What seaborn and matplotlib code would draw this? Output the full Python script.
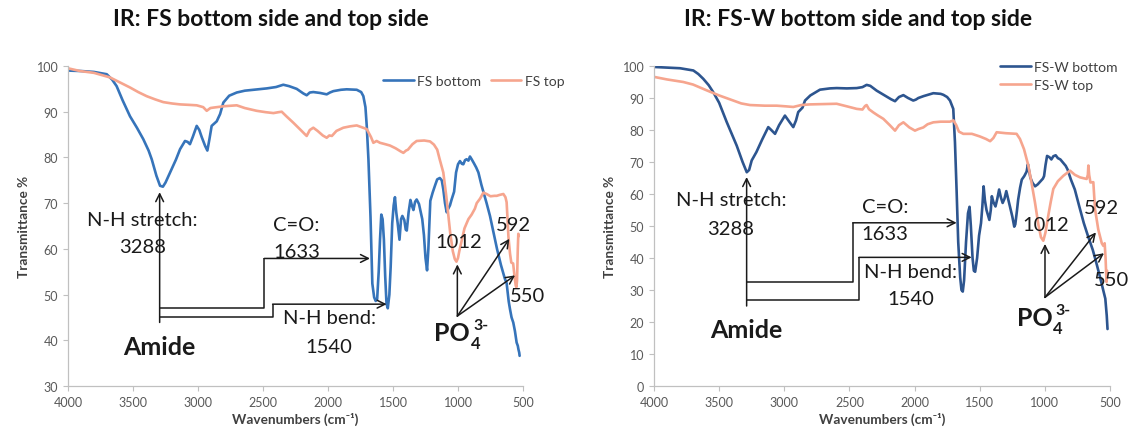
import matplotlib
matplotlib.use("Agg")
import matplotlib.pyplot as plt
import seaborn as sns
import pandas as pd

# ---- FS spectra (wavenumber in cm-1, transmittance in %) ----
fs_bottom_wn = [4000, 3900, 3800, 3702, 3660, 3626, 3580, 3523, 3470, 3421, 3380, 3356, 3320, 3292,
                3270, 3250, 3215, 3170, 3138, 3100, 3080, 3062, 3040, 3010, 2990, 2972, 2945, 2928,
                2912, 2895, 2856, 2830, 2805, 2760, 2702, 2640, 2574, 2471, 2400, 2344, 2300, 2241,
                2190, 2164, 2140, 2113, 2060, 2010, 1985, 1959, 1900, 1856, 1779, 1745, 1728, 1712,
                1702, 1689, 1673, 1659, 1645, 1633, 1622, 1610, 1600, 1590, 1580, 1570, 1560, 1550,
                1540, 1528, 1518, 1506, 1495, 1485, 1475, 1464, 1450, 1438, 1428, 1413, 1402, 1394,
                1380, 1366, 1355, 1343, 1330, 1318, 1300, 1292, 1275, 1262, 1250, 1238, 1228, 1213,
                1195, 1175, 1160, 1140, 1125, 1113, 1100, 1087, 1075, 1062, 1049, 1030, 1015, 1000,
                985, 970, 959, 946, 934, 920, 908, 895, 877, 860, 843, 820, 800, 780, 754, 730, 700,
                670, 640, 626, 610, 600, 588, 575, 562, 549, 540, 535, 529, 526]
fs_bottom_t = [99.0, 98.9, 98.7, 98.2, 97.0, 95.6, 92.5, 89.0, 86.5, 84.0, 81.5, 79.6, 76.0, 73.8,
               73.6, 74.5, 76.7, 79.5, 81.8, 83.6, 83.4, 82.9, 84.5, 86.9, 86.0, 84.5, 82.5, 81.5,
               84.0, 86.9, 87.9, 89.5, 92.0, 93.5, 94.2, 94.6, 94.8, 95.1, 95.4, 95.9, 95.6, 95.0,
               94.0, 93.6, 94.2, 94.3, 94.1, 93.8, 94.2, 94.5, 94.8, 94.9, 94.8, 94.3, 93.4, 91.0,
               86.9, 79.6, 67.0, 52.4, 49.4, 48.6, 49.0, 55.0, 62.0, 67.5, 66.5, 62.0, 54.0, 48.0,
               47.0, 50.0, 56.0, 65.6, 69.5, 71.3, 68.0, 65.6, 62.0, 66.5, 67.2, 66.3, 64.2, 64.0,
               68.0, 70.7, 69.5, 68.5, 70.3, 70.8, 69.8, 68.8, 66.5, 63.0, 58.0, 55.3, 60.0, 70.5,
               72.3, 74.0, 75.2, 75.5, 75.0, 73.0, 70.0, 68.0, 68.8, 69.5, 70.8, 72.5, 76.7, 78.5,
               79.2, 78.6, 78.5, 79.4, 79.6, 79.3, 80.2, 79.6, 78.7, 77.8, 76.7, 74.0, 72.0, 70.0,
               67.2, 64.0, 60.0, 56.5, 53.5, 52.5, 48.5, 46.8, 45.0, 43.9, 42.0, 39.5, 38.8, 38.0,
               37.3, 36.6]

fs_top_wn = [4000, 3908, 3800, 3677, 3600, 3523, 3460, 3395, 3330, 3267, 3200, 3138, 3070, 3010,
             2960, 2933, 2905, 2882, 2800, 2702, 2640, 2549, 2480, 2420, 2380, 2356, 2320, 2267,
             2210, 2175, 2164, 2140, 2113, 2080, 2040, 2010, 1990, 1970, 1935, 1882, 1830, 1779,
             1740, 1702, 1670, 1651, 1626, 1600, 1560, 1523, 1480, 1440, 1420, 1400, 1385, 1350,
             1318, 1260, 1215, 1185, 1160, 1140, 1113, 1090, 1075, 1060, 1040, 1025, 1012, 1000,
             990, 970, 950, 920, 895, 870, 856, 830, 805, 780, 750, 720, 702, 680, 651, 635, 626,
             618, 612, 600, 590, 576, 565, 556, 551, 546, 540, 536, 532]
fs_top_t = [99.5, 98.9, 98.5, 97.5, 96.4, 95.3, 94.3, 93.4, 92.7, 92.1, 91.8, 91.6, 91.5, 91.4,
            91.0, 90.2, 90.8, 90.9, 91.2, 91.4, 90.8, 90.2, 89.9, 89.7, 89.9, 90.0, 89.0, 87.6,
            86.0, 85.0, 84.7, 86.0, 86.5, 85.8, 84.8, 84.3, 84.8, 84.7, 85.8, 86.5, 86.8, 87.0,
            86.6, 86.2, 84.5, 83.2, 83.6, 83.2, 82.9, 82.6, 82.0, 81.3, 81.0, 81.5, 81.7, 82.9,
            83.6, 83.7, 83.5, 82.8, 81.7, 79.5, 76.7, 71.5, 67.5, 63.5, 59.5, 57.8, 57.2, 58.0,
            59.5, 62.0, 64.5, 66.5, 67.5, 68.8, 70.0, 71.0, 72.3, 72.0, 71.5, 71.6, 71.6, 71.8,
            72.0, 71.3, 70.2, 66.0, 62.6, 59.0, 57.0, 56.8, 54.0, 52.0, 51.6, 53.0, 60.0, 63.3, 62.8]

# ---- FS-W spectra ----
fsw_bottom_wn = [4000, 3900, 3800, 3698, 3660, 3622, 3580, 3545, 3500, 3442, 3400, 3365, 3320, 3288,
                 3270, 3250, 3214, 3170, 3123, 3100, 3071, 3040, 2995, 2960, 2931, 2910, 2893, 2860,
                 2841, 2800, 2726, 2650, 2598, 2520, 2444, 2400, 2368, 2340, 2291, 2230, 2180, 2150,
                 2120, 2086, 2050, 2010, 1990, 1971, 1930, 1856, 1800, 1779, 1750, 1728, 1703, 1690,
                 1677, 1665, 1650, 1640, 1630, 1620, 1605, 1590, 1578, 1568, 1555, 1545, 1535, 1520,
                 1505, 1490, 1480, 1470, 1460, 1448, 1426, 1415, 1407, 1395, 1379, 1365, 1351, 1338,
                 1324, 1310, 1296, 1282, 1268, 1250, 1235, 1227, 1215, 1205, 1190, 1177, 1158, 1140,
                 1130, 1120, 1111, 1095, 1075, 1055, 1033, 1015, 1006, 995, 983, 965, 950, 935, 917,
                 900, 881, 860, 840, 826, 800, 770, 735, 701, 670, 632, 605, 577, 555, 536, 525, 519]
fsw_bottom_t = [99.7, 99.5, 99.3, 98.6, 97.5, 96.0, 94.0, 91.8, 88.5, 82.5, 78.5, 75.1, 70.0, 66.8,
                67.5, 70.5, 73.1, 77.0, 80.9, 80.0, 78.8, 81.5, 84.5, 82.5, 80.9, 83.0, 85.6, 87.0,
                89.2, 90.8, 92.6, 93.0, 93.1, 93.0, 93.1, 93.4, 94.1, 93.8, 92.3, 90.8, 89.6, 89.0,
                90.3, 90.9, 90.0, 89.2, 89.5, 90.0, 90.6, 91.5, 91.3, 91.0, 90.3, 89.2, 86.6, 76.2,
                60.6, 45.0, 34.0, 30.0, 29.5, 33.0, 45.0, 54.0, 56.0, 50.0, 40.0, 36.0, 35.7, 40.0,
                47.0, 50.9, 56.0, 62.4, 58.0, 55.0, 51.9, 55.0, 59.3, 57.5, 56.1, 58.5, 61.4, 59.0,
                57.2, 58.5, 60.9, 58.5, 56.1, 53.0, 49.8, 50.5, 54.5, 58.2, 62.0, 64.5, 65.6, 67.0,
                69.3, 67.0, 65.1, 63.5, 62.4, 63.0, 64.0, 64.8, 65.6, 69.0, 71.9, 71.5, 70.8, 71.8,
                72.1, 71.2, 70.8, 69.8, 68.8, 67.7, 64.5, 61.4, 56.0, 50.9, 47.0, 42.5, 38.5, 34.1,
                30.5, 27.3, 22.0, 17.8]

fsw_top_wn = [4000, 3900, 3775, 3700, 3596, 3500, 3391, 3330, 3263, 3150, 3058, 2990, 2931, 2870,
              2803, 2700, 2598, 2520, 2444, 2400, 2380, 2368, 2350, 2317, 2280, 2240, 2190, 2150,
              2120, 2086, 2040, 1997, 1970, 1933, 1900, 1856, 1800, 1728, 1702, 1680, 1660, 1626,
              1560, 1500, 1452, 1420, 1395, 1370, 1300, 1217, 1191, 1160, 1127, 1100, 1076, 1050,
              1030, 1012, 995, 974, 955, 935, 900, 858, 807, 770, 730, 700, 679, 670, 666, 660,
              650, 628, 615, 602, 590, 575, 563, 551, 541, 534, 527, 522]
fsw_top_t = [96.6, 95.8, 95.0, 94.2, 92.4, 90.8, 89.2, 88.3, 87.8, 87.6, 87.6, 87.4, 87.2, 87.8,
             88.0, 88.1, 88.2, 87.4, 86.6, 86.4, 87.5, 87.8, 86.5, 85.5, 84.5, 83.5, 81.5, 79.8,
             81.5, 82.4, 80.8, 79.8, 80.3, 80.8, 81.8, 82.4, 82.6, 82.6, 83.0, 81.5, 79.5, 78.8,
             78.8, 78.0, 77.2, 76.5, 77.5, 79.3, 79.0, 78.8, 77.2, 74.0, 68.9, 63.0, 57.4, 50.5,
             46.5, 45.4, 48.0, 53.2, 57.5, 61.6, 64.0, 65.7, 67.3, 66.0, 65.2, 64.9, 64.7, 66.0,
             68.9, 66.0, 63.6, 63.7, 55.3, 52.0, 48.9, 46.5, 44.6, 43.8, 44.6, 40.0, 32.5, 36.0]

x_ticks = [4000, 3500, 3000, 2500, 2000, 1500, 1000, 500]
y_ticks_fs = [30, 40, 50, 60, 70, 80, 90, 100]
y_ticks_fsw = [0, 10, 20, 30, 40, 50, 60, 70, 80, 90, 100]

# ---- style ----
sns.set_theme(style="ticks")
plt.rcParams["font.family"] = ["Lato", "DejaVu Sans"]

W, H = 1132, 435
fig = plt.figure(figsize=(W / 100, H / 100), dpi=100)
fig.patch.set_facecolor("white")

ax1 = fig.add_axes([68 / W, 1 - 387 / H, 455 / W, 320 / H])
ax2 = fig.add_axes([654 / W, 1 - 387 / H, 456 / W, 320 / H])

SALMON = "#F6A58E"
BLUE_L = "#3674BA"
BLUE_R = "#2D558F"
INK = "#1a1a1a"


def long_frame(pairs):
    parts = []
    for name, wn, t in pairs:
        parts.append(pd.DataFrame({"Wavenumber": wn, "Transmittance": t, "Sample": name}))
    return pd.concat(parts, ignore_index=True)


df_fs = long_frame([("FS bottom", fs_bottom_wn, fs_bottom_t), ("FS top", fs_top_wn, fs_top_t)])
df_fsw = long_frame([("FS-W bottom", fsw_bottom_wn, fsw_bottom_t), ("FS-W top", fsw_top_wn, fsw_top_t)])

sns.lineplot(data=df_fs, x="Wavenumber", y="Transmittance", hue="Sample",
             hue_order=["FS bottom", "FS top"],
             palette={"FS bottom": BLUE_L, "FS top": SALMON},
             estimator=None, linewidth=1.9, legend=False, ax=ax1)
sns.lineplot(data=df_fsw, x="Wavenumber", y="Transmittance", hue="Sample",
             hue_order=["FS-W bottom", "FS-W top"],
             palette={"FS-W bottom": BLUE_R, "FS-W top": SALMON},
             estimator=None, linewidth=1.9, legend=False, ax=ax2)

for ax, yt, ylim in [(ax1, y_ticks_fs, (30, 100)), (ax2, y_ticks_fsw, (0, 100))]:
    ax.set_xlim(4000, 500)
    ax.set_ylim(*ylim)
    ax.set_xticks(x_ticks)
    ax.set_yticks(yt)
    ax.set_xticklabels([str(v) for v in x_ticks])
    ax.set_yticklabels([str(v) for v in yt])
    for s in ("top", "right"):
        ax.spines[s].set_visible(False)
    for s in ("left", "bottom"):
        ax.spines[s].set_color("#C0C0C0")
        ax.spines[s].set_linewidth(0.9)
    ax.tick_params(axis="both", direction="out", length=3.5, width=0.8, color="#C0C0C0",
                   labelcolor="#595959", labelsize=9, pad=3.5)
    ax.set_xlabel("Wavenumbers (cm\u207b\u00b9)", fontsize=9.8, fontweight="bold",
                  color="#404040", labelpad=3)
    ax.set_ylabel("Transmittance %", fontsize=9.8, fontweight="bold", color="#404040", labelpad=5)
    ax.grid(False)

# legends
h1 = ax1.get_lines()[:2]
ax1.legend(h1, ["FS bottom", "FS top"], loc="center left",
           bbox_to_anchor=(383 / W, 1 - 82 / H), bbox_transform=fig.transFigure,
           ncol=2, frameon=False, fontsize=10, handlelength=2.2, handletextpad=0.25,
           columnspacing=0.7, borderpad=0, borderaxespad=0, labelcolor="#404040")
h2 = ax2.get_lines()[:2]
ax2.legend(h2, ["FS-W bottom", "FS-W top"], loc="upper left",
           bbox_to_anchor=(1000 / W, 1 - 62 / H), bbox_transform=fig.transFigure,
           ncol=1, frameon=False, fontsize=10, handlelength=2.2, handletextpad=0.25,
           labelspacing=0.45, borderpad=0, borderaxespad=0, labelcolor="#404040")

# titles
fig.text(271 / W, 1 - 20 / H, "IR: FS bottom side and top side", ha="center", va="center",
         fontsize=16.5, fontweight="bold", color="#111111")
fig.text(858 / W, 1 - 20 / H, "IR: FS-W bottom side and top side", ha="center", va="center",
         fontsize=16.5, fontweight="bold", color="#111111")

ARW = dict(arrowstyle="->", color=INK, lw=1.1, shrinkA=0, shrinkB=0, mutation_scale=14)


def path_arrow(ax, pts):
    xs = [p[0] for p in pts]
    ys = [p[1] for p in pts]
    ax.plot(xs[:-1], ys[:-1], color=INK, lw=1.1, solid_capstyle="butt")
    ax.annotate("", xy=pts[-1], xytext=pts[-2], arrowprops=ARW)


def label(ax, x, y, s, size=14.5, weight="normal", ha="center"):
    return ax.text(x, y, s, ha=ha, va="center", fontsize=size, fontweight=weight, color=INK,
                   clip_on=False)


def phosphate_label(ax, x, y):
    base = label(ax, x, y, "PO", size=18, weight="bold", ha="left")
    ax.annotate("4", xy=(1.0, 0.0), xycoords=base, xytext=(0.5, 1.0), textcoords="offset points",
                ha="left", va="center", fontsize=12, fontweight="bold", color=INK)
    ax.annotate("3-", xy=(1.0, 1.0), xycoords=base, xytext=(2.5, -3.0), textcoords="offset points",
                ha="left", va="center", fontsize=11.5, fontweight="bold", color=INK)


def annotate_panel(ax, a):
    # amide group
    path_arrow(ax, [(a["xv"], a["yv0"]), (a["xv"], a["yv1"])])
    path_arrow(ax, [(a["xv"], a["p1"][0]), (a["p1"][1], a["p1"][0]), (a["p1"][1], a["p1"][2]),
                    (a["p1"][3], a["p1"][2])])
    path_arrow(ax, [(a["xv"], a["p2"][0]), (a["p2"][1], a["p2"][0]), (a["p2"][1], a["p2"][2]),
                    (a["p2"][3], a["p2"][2])])
    label(ax, a["ns"][0], a["ns"][1], "N-H stretch:")
    label(ax, a["ns"][0], a["ns"][2], "3288")
    label(ax, a["co"][0], a["co"][1], "C=O:")
    label(ax, a["co"][0], a["co"][2], "1633")
    label(ax, a["nb"][0], a["nb"][1], "N-H bend:")
    label(ax, a["nb"][0], a["nb"][2], "1540")
    label(ax, a["am"][0], a["am"][1], "Amide", size=18, weight="bold")
    # phosphate group
    ox, oy = a["po_origin"]
    for tx, ty in a["po_targets"]:
        ax.annotate("", xy=(tx, ty), xytext=(ox, oy), arrowprops=ARW)
    phosphate_label(ax, a["po_text"][0], a["po_text"][1])
    label(ax, a["l1012"][0], a["l1012"][1], "1012")
    label(ax, a["l592"][0], a["l592"][1], "592")
    label(ax, a["l550"][0], a["l550"][1], "550")


annotate_panel(ax1, dict(
    xv=3295, yv0=43.9, yv1=72.4,
    p1=(47.1, 2490, 57.9, 1677), p2=(45.2, 2426, 47.9, 1549),
    ns=(3427, 66.5, 60.6), co=(2241, 65.4, 59.5), nb=(1992, 45.0, 38.7), am=(3301, 38.7),
    po_origin=(1005, 45.3), po_targets=[(1005, 56.6), (605, 62.2), (561, 54.2)],
    po_text=(1184, 41.7), l1012=(995, 61.7), l592=(575, 65.4), l550=(462, 49.7)))

annotate_panel(ax2, dict(
    xv=3289, yv0=25.0, yv1=65.3,
    p1=(32.4, 2475, 51.0, 1677), p2=(26.9, 2427, 40.2, 1562),
    ns=(3410, 58.3, 49.1), co=(2227, 56.2, 47.8), nb=(2029, 35.7, 27.4), am=(3292, 17.8),
    po_origin=(999, 27.7), po_targets=[(999, 44.4), (608, 48.0), (546, 41.5)],
    po_text=(1216, 21.4), l1012=(991, 50.6), l592=(564, 55.9), l550=(485, 33.4)))

fig.savefig("out.png", dpi=100, facecolor="white")
